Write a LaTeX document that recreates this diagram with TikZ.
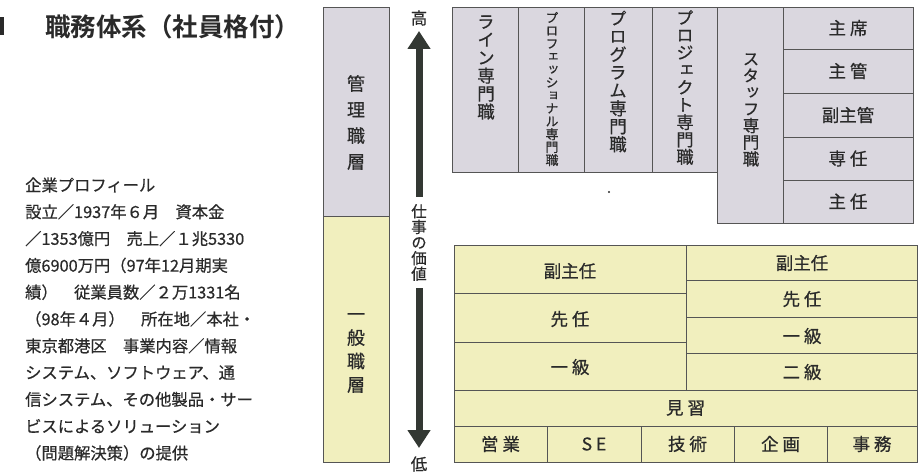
\documentclass[tikz,border=0pt]{standalone}
\usepackage{fontspec}
\setmainfont{Noto Sans CJK JP}[FakeBold=0.6]
\newfontfamily\cjkv[RawFeature=+vert,FakeBold=0.6]{Noto Sans CJK JP}
\newfontfamily\cjkb{Noto Sans CJK JP Bold}
\usetikzlibrary{arrows.meta}
\definecolor{lav}{HTML}{DAD7DF}
\definecolor{yel}{HTML}{F1EFBE}
\definecolor{edge}{HTML}{555555}
\definecolor{ink}{HTML}{2A2A2A}
\definecolor{arr}{HTML}{333833}
\tikzset{
  gcell/.style={draw=edge, line width=0.8pt, fill=lav},
  ycell/.style={draw=edge, line width=0.8pt, fill=yel},
  lbl/.style={font=\fontsize{17.5}{18}\selectfont, text=ink, inner sep=0pt},
  vlbl/.style={align=center, text=ink, inner sep=0pt},
  body/.style={font=\fontsize{16.3}{18}\selectfont, text=ink, anchor=west, inner sep=0pt},
}
\begin{document}
\begin{tikzpicture}[x=1pt,y=-1pt]
\useasboundingbox (0,0) rectangle (923,473);
% partial mark at left edge
\fill[ink] (0,17) rectangle (4,35);
% title
\node[anchor=west, inner sep=0pt, text=ink, font=\cjkb\fontsize{25.5}{27}\selectfont] (title) at (45,27) {職務体系（社員格付）};
% profile text
\foreach \t [count=\i] in {企業プロフィール,
 設立／1937年６月　資本金,
 ／1353億円　売上／１兆5330,
 億6900万円（97年12月期実,
 績）　従業員数／２万1331名,
 （98年４月）　所在地／本社・,
 東京都港区　事業内容／情報,
 システム、ソフトウェア、通,
 信システム、その他製品・サー,
 ビスによるソリューション,
 （問題解決策）の提供}
  \node[body] (p\i) at (25,{185+26.8*(\i-1)}) {\t};
% left column
\path[gcell] (323,7) rectangle (389,216);
\path[ycell] (323,216) rectangle (389,462);
\node[vlbl, font=\cjkv\fontsize{18}{26}\selectfont] (kanri) at (356,122.5) {管\\理\\職\\層};
\node[vlbl, font=\cjkv\fontsize{18}{23.5}\selectfont] (ippan) at (356,353) {一\\般\\職\\層};
% value arrow
\node[lbl, font=\fontsize{16.5}{18}\selectfont] (high) at (419,18) {高};
\node[lbl, font=\fontsize{16.5}{18}\selectfont] (low) at (419,464) {低};
\node[vlbl, font=\cjkv\fontsize{15.5}{15.6}\selectfont] (value) at (419,242.5) {仕\\事\\の\\価\\値};
\coordinate (upS) at (419,197);
\coordinate (upT) at (419,31);
\coordinate (dnS) at (419,288);
\coordinate (dnT) at (419,448);
\draw[arr, line width=7pt, -{Triangle[width=22pt,length=18pt]}] (upS) -- (upT);
\draw[arr, line width=7pt, -{Triangle[width=22pt,length=18pt]}] (dnS) -- (dnT);
% top grid (management)
\path[gcell] (452,7) rectangle (518,172);
\path[gcell] (518,7) rectangle (584,172);
\path[gcell] (584,7) rectangle (652,172);
\path[gcell] (652,7) rectangle (717,172);
\path[gcell] (717,7) rectangle (783,223);
\path[gcell] (783,7) rectangle (913,49);
\path[gcell] (783,49) rectangle (913,93);
\path[gcell] (783,93) rectangle (913,137);
\path[gcell] (783,137) rectangle (913,180);
\path[gcell] (783,180) rectangle (913,223);
\node[vlbl, font=\cjkv\fontsize{17.5}{18}\selectfont] (line) at (486,67.5) {ラ\\イ\\ン\\専\\門\\職};
\node[vlbl, font=\cjkv\fontsize{12.9}{12.95}\selectfont] (prof) at (552,89) {プ\\ロ\\フ\\ェ\\ッ\\シ\\ョ\\ナ\\ル\\専\\門\\職};
\node[vlbl, font=\cjkv\fontsize{17.5}{18}\selectfont] (prog) at (618,81.5) {プ\\ロ\\グ\\ラ\\ム\\専\\門\\職};
\node[vlbl, font=\cjkv\fontsize{17.3}{17.4}\selectfont] (proj) at (685,87.5) {プ\\ロ\\ジ\\ェ\\ク\\ト\\専\\門\\職};
\node[vlbl, font=\cjkv\fontsize{16.6}{16.7}\selectfont] (staff) at (751,110) {ス\\タ\\ッ\\フ\\専\\門\\職};
\node[lbl] (r1) at (848,28) {主 席};
\node[lbl] (r2) at (848,71) {主 管};
\node[lbl] (r3) at (848,115) {副主管};
\node[lbl] (r4) at (848,158.5) {専 任};
\node[lbl] (r5) at (848,201.5) {主 任};
\fill[ink] (609,192) circle (1.2);
% bottom grid (general)
\path[ycell] (454,245) rectangle (686,293);
\path[ycell] (454,293) rectangle (686,342);
\path[ycell] (454,342) rectangle (686,390);
\path[ycell] (686,245) rectangle (917,280);
\path[ycell] (686,280) rectangle (917,317);
\path[ycell] (686,317) rectangle (917,353);
\path[ycell] (686,353) rectangle (917,390);
\path[ycell] (454,390) rectangle (917,426);
\path[ycell] (454,426) rectangle (547,462);
\path[ycell] (547,426) rectangle (641,462);
\path[ycell] (641,426) rectangle (734,462);
\path[ycell] (734,426) rectangle (827,462);
\path[ycell] (827,426) rectangle (917,462);
\node[lbl] (l1) at (570,271) {副主任};
\node[lbl] (l2) at (570,319) {先 任};
\node[lbl] (l3) at (570,367) {一 級};
\node[lbl] (q1) at (802,263) {副主任};
\node[lbl] (q2) at (802,299) {先 任};
\node[lbl] (q3) at (802,336) {一 級};
\node[lbl] (q4) at (802,372) {二 級};
\node[lbl] (minarai) at (685.5,408) {見 習};
\node[lbl] (b1) at (500.5,444) {営 業};
\node[lbl] (b2) at (594,444) {S E};
\node[lbl] (b3) at (687.5,444) {技 術};
\node[lbl] (b4) at (780.5,444) {企 画};
\node[lbl] (b5) at (872,444) {事 務};
\end{tikzpicture}
\end{document}
